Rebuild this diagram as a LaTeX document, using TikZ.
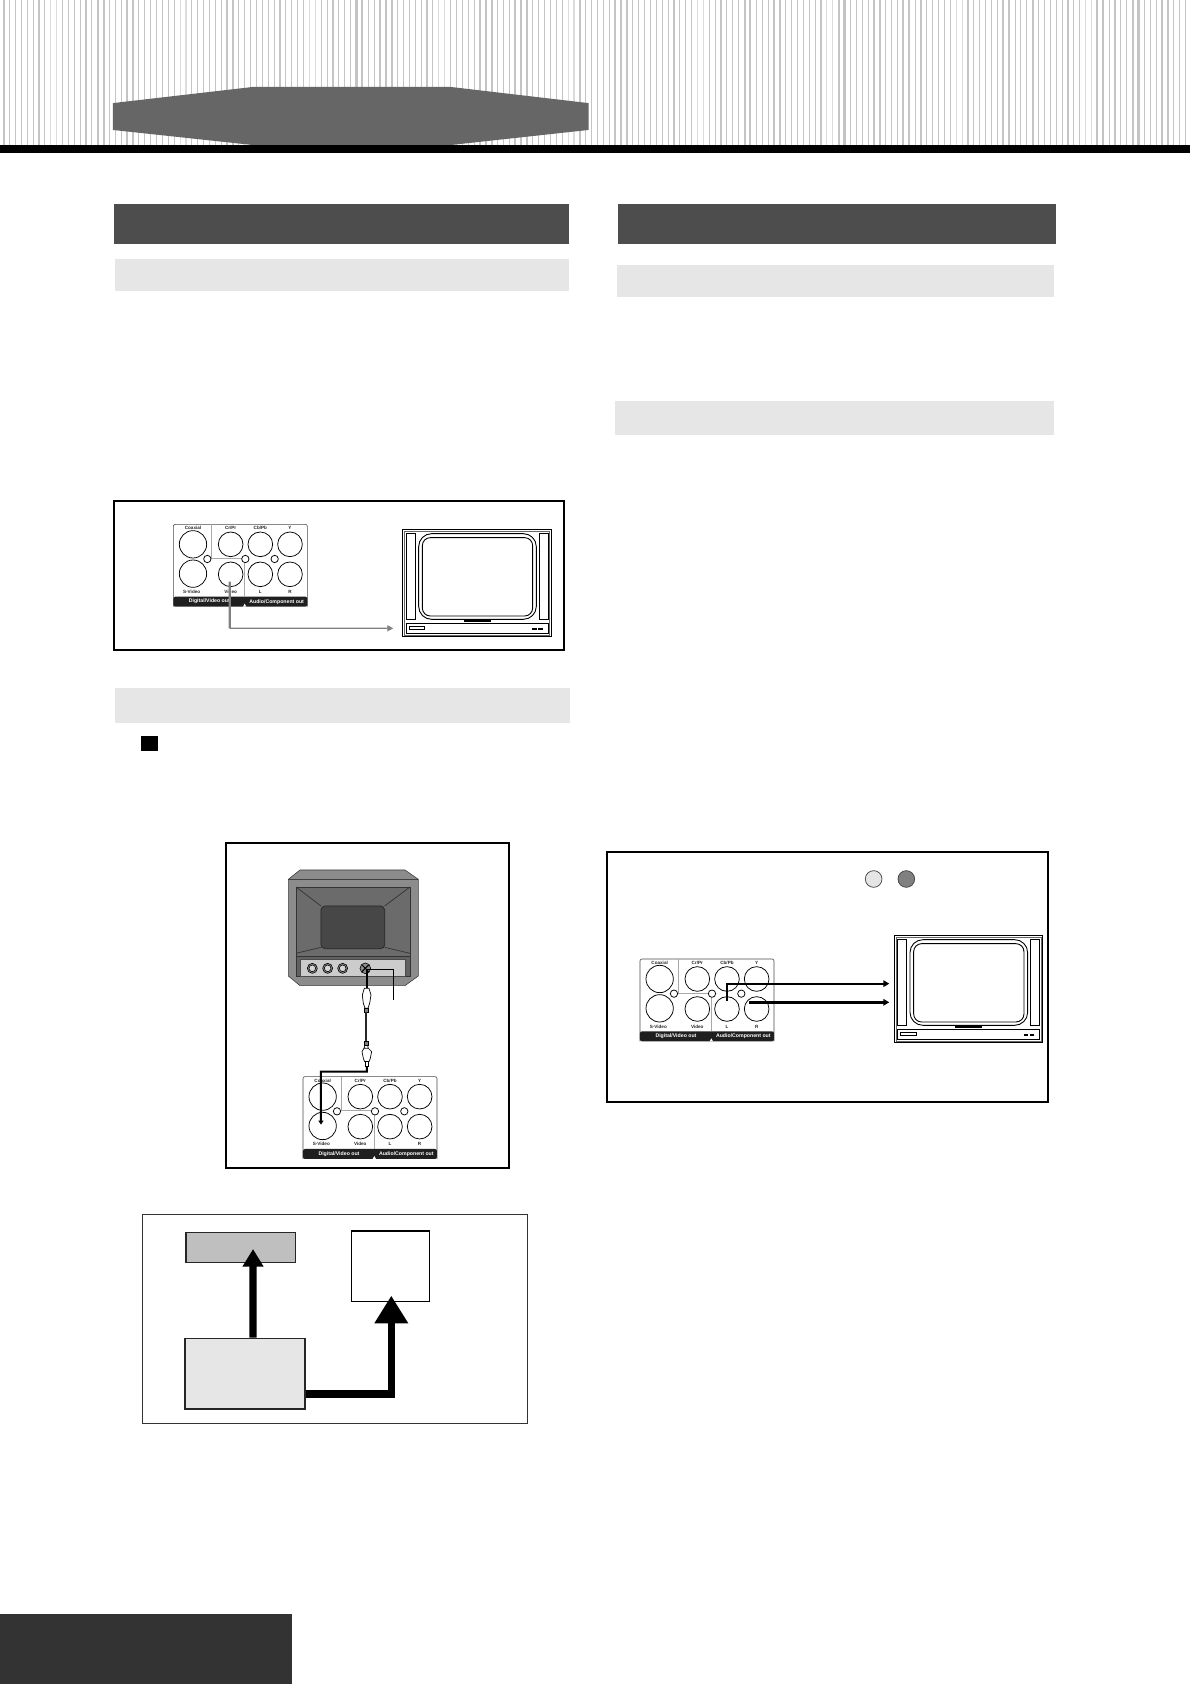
\documentclass[tikz,border=0pt]{standalone}
\usepackage{fontspec}
\setmainfont{Liberation Sans}
\usetikzlibrary{arrows.meta}
\definecolor{titlebar}{HTML}{4D4D4D}
\definecolor{lightbar}{HTML}{E6E6E6}
\definecolor{stripe}{HTML}{C4C4C4}
\definecolor{stripelight}{HTML}{DCDCDC}
\definecolor{pillgray}{HTML}{666666}
\definecolor{footbar}{HTML}{333333}
\definecolor{arrowgray}{HTML}{808080}
\definecolor{jackline}{HTML}{A8A8A8}
\tikzset{
  z1/.style={shift={(102.42,456.24)},scale=.31037},
  z2/.style={shift={(204.84,782.12)},scale=.31037},
  z3/.style={shift={(558.66,786.78)},scale=.31037},
  z5/.style={shift={(121.04,1117.32)},scale=.31037},
  framebox/.style={draw=black,line width=2pt,fill=white},
  thinbox/.style={draw=black!80,line width=.9pt,fill=white},
  jacklabel/.style={font=\fontsize{4.6}{5}\selectfont\bfseries,inner sep=0pt,text=black!85},
  barlabel/.style={font=\fontsize{5.2}{6}\selectfont\bfseries,inner sep=0pt,text=white},
  blockbox/.style={draw=black!85,line width=1.3pt,inner sep=0pt},
  fatarrow/.style={line width=7.3pt,draw=black},
  blackwire/.style={line width=2pt,draw=black},
  graywire/.style={draw=arrowgray},
  jackpanel/.pic={
    \draw[line width=.6pt,rounded corners=2pt,draw=black!70] (0,247) -- (0,0) -- (402,0) -- (402,247);
    \fill[black!88,rounded corners=2pt] (0,217) -- (402,217) -- (402,247) -- (0,247) -- cycle;
    \fill[white] (209,247) -- (214,238) -- (219,247) -- cycle;
    \draw[jackline,line width=.7pt] (114,0) -- (114,102) -- (205,102);
    \draw[jackline,line width=.7pt] (214,115) -- (214,217);
    \foreach \x/\y/\r in {59/60/41,172/60/37,261/60/37,350/60/37,59/148/41,172/150/37,261/150/37,350/150/37,102/104/11,216/104/11,304/104/11}
      \draw[black,line width=.75pt,fill=white] (\x,\y) circle [radius=\r];
    \node[jacklabel] (-lcoax) at (59,12) {Coaxial};
    \node[jacklabel] (-lcr) at (172,12) {Cr/Pr};
    \node[jacklabel] (-lcb) at (261,12) {Cb/Pb};
    \node[jacklabel] (-ly) at (350,12) {Y};
    \node[jacklabel] (-ls) at (55,203) {S-Video};
    \node[jacklabel] (-lv) at (172,203) {Video};
    \node[jacklabel] (-ll) at (261,203) {L};
    \node[jacklabel] (-lr) at (350,203) {R};
    \node[barlabel] (-bar1) at (108,232) {Digital/Video out};
    \node[barlabel] (-bar2) at (310,232) {Audio/Component out};
    \coordinate (-svideo) at (59,148);
    \coordinate (-video) at (169,172);
    \coordinate (-left) at (261,125);
    \coordinate (-right) at (327,131);
  },
  frontset/.pic={
    \draw[black,line width=1pt] (0,0) rectangle (445,322);
    \draw[black!60,line width=.4pt] (5,5) rectangle (440,317);
    \draw[black,line width=.8pt] (10,13) rectangle (36,269);
    \draw[black,line width=.8pt] (409,13) rectangle (435,269);
    \draw[black,line width=.9pt,rounded corners=13pt] (47,13) rectangle (400,270);
    \draw[black,line width=.9pt,rounded corners=8pt] (58,25) rectangle (389,260);
    \fill[black] (183,273) rectangle (264,279);
    \draw[black,line width=.8pt] (10,282) rectangle (436,312);
    \draw[black,line width=.8pt] (18,292) rectangle (65,300);
    \fill[black] (388,296) rectangle (402,303);
    \fill[black] (406,296) rectangle (419,303);
  },
  pz/.style={scale=.31037},
}
\begin{document}
\begin{tikzpicture}[x=1.074pt,y=-1.074pt]
\useasboundingbox (0,0) rectangle (1108,1568);
\fill[white] (0,0) rectangle (1108,1568);
% header stripes
\foreach \i in {0,...,201}{
  \pgfmathtruncatemacro{\m}{mod(\i,22)}
  \def\sw{1.1pt}\def\sc{stripe}
  \ifnum\m=16 \def\sw{2.1pt}\fi
  \ifnum\m=17 \def\sw{2.1pt}\fi
  \ifnum\m=21 \def\sw{1.7pt}\fi
  \ifnum\m=0 \def\sw{1.7pt}\fi
  \ifnum\m=8 \def\sc{stripelight}\fi
  \ifnum\m=9 \def\sc{stripelight}\fi
  \ifnum\i=98 \def\sw{2.1pt}\fi
  \ifnum\i=142 \def\sw{2.1pt}\fi
  \ifnum\i=143 \def\sw{2.1pt}\fi
  \ifnum\i=153 \def\sw{2.1pt}\fi
  \ifnum\i=154 \def\sw{2.1pt}\fi
  \ifnum\i=186 \def\sw{2.1pt}\fi
  \ifnum\i=187 \def\sw{2.1pt}\fi
  \draw[\sc,line width=\sw] ({3.42+5.475*\i},0) -- ({3.42+5.475*\i},135);
}
\fill[pillgray] (105,96) -- (235,81) -- (420,81) -- (548,96) -- (548,121) -- (420,135) -- (235,135) -- (105,121) -- cycle;
\fill[black] (0,135) rectangle (1108,142.3);
% title and section bars
\fill[titlebar] (106,190) rectangle (530,227);
\fill[titlebar] (575,190) rectangle (983,227);
\fill[lightbar] (107,241) rectangle (530,271);
\fill[lightbar] (574.5,247) rectangle (981,277);
\fill[lightbar] (572.5,373) rectangle (981,405);
\fill[lightbar] (107,641) rectangle (531,673);
\fill[black] (131,685) rectangle (147,699);
\fill[footbar] (0,1503) rectangle (272,1568);

% box 1: composite video
\begin{scope}[z1]
  \draw[framebox] (12,32) rectangle (1361,480);
  \pic[pz] (pa) at (190,103) {jackpanel};
  \pic[pz] (tva) at (879,118) {frontset};
  \coordinate (tvain) at (850,415);
  \coordinate (pabend) at (pa-video |- tvain);
  \draw[graywire,line width=2.2pt] (pa-video) -- (pabend);
  \draw[graywire,line width=1.2pt,-{Triangle[length=6pt,width=6pt]}] (pabend) -- (tvain);
\end{scope}

% box 2: S-Video
\begin{scope}[z2]
  \draw[framebox] (17,8) rectangle (868,985);
  \fill[black!45,draw=black!75,line width=.6pt] (205,118) -- (240,90) -- (555,90) -- (595,118) -- (595,408) -- (555,437) -- (240,437) -- (205,408) -- cycle;
  \draw[black!75,line width=.7pt] (205,118) -- (595,118);
  \draw[black!80,line width=.7pt,fill=black!58] (228,141) rectangle (570,350);
  \fill[black!62,draw=black!80,line width=.6pt] (228,350) rectangle (570,408);
  \draw[black!80,line width=.7pt] (228,141) -- (303,198) (570,141) -- (494,198) (228,340) -- (303,322) (570,340) -- (494,322);
  \draw[black!85,line width=.7pt,fill=black!72,rounded corners=4pt] (303,198) rectangle (494,326);
  \fill[black!20,draw=black!70,line width=.5pt] (240,358) rectangle (556,408);
  \foreach \x in {277,323,368}{
    \draw[black,line width=.6pt,fill=black!45] (\x,385) circle [radius=15];
    \draw[black,line width=.6pt,fill=black!15] (\x,385) circle [radius=10];
  }
  \draw[black,line width=.6pt,fill=black!45] (436,385) circle [radius=16];
  \draw[black,line width=1pt] (426,375) -- (446,395) (426,395) -- (446,375);
  \coordinate (sin) at (440,388);
  \coordinate (leadend) at (521,480);
  \draw[black,line width=1.5pt] (sin) -| (leadend);
  \draw[black,line width=.7pt,fill=white] (433,445) -- (447,445) -- (453,465) -- (449,490) -- (444,505) -- (435,505) -- (430,490) -- (427,465) -- cycle;
  \draw[black,line width=.6pt,fill=black!50] (434,505) rectangle (444,517);
  \draw[black,line width=.7pt,fill=white] (432,625) -- (445,625) -- (455,635) -- (451,655) -- (447,665) -- (434,665) -- (430,655) -- (426,635) -- cycle;
  \draw[black,line width=.6pt,fill=black!50] (433,603) rectangle (444,617);
  \draw[black,line width=.7pt,fill=white] (436,665) rectangle (446,680);
  \draw[black,line width=.7pt] (435,617) -- (432,625) (443,617) -- (445,625);
  \coordinate (plugtopin) at (440,445);
  \coordinate (plugtopout) at (439,517);
  \coordinate (plugbotin) at (439,603);
  \coordinate (plugbotout) at (441,680);
  \draw[blackwire] (sin) -- (plugtopin);
  \draw[blackwire,draw=black!85] (plugtopout) -- (plugbotin);
  \pic[pz] (pb) at (249,710) {jackpanel};
  \coordinate (pbtip) at (303,854);
  \draw[blackwire,-{Triangle[length=4pt,width=5pt]}] (plugbotout) |- (303,695) -- (pbtip);
\end{scope}

% box 3: audio
\begin{scope}[z3]
  \draw[framebox] (22,22) rectangle (1343,770);
  \draw[black!75,line width=.7pt,fill=black!10] (821,102) circle [radius=25];
  \draw[black!75,line width=.7pt,fill=black!50] (919,102) circle [radius=25];
  \pic[pz] (pc) at (120,342) {jackpanel};
  \pic[pz] (tvc) at (883,271) {frontset};
  \coordinate (tvcl) at (868,416);
  \coordinate (tvcr) at (868,472);
  \coordinate (pcl) at (381,467);
  \coordinate (pcr) at (447,472);
  \draw[blackwire,-{Triangle[length=6pt,width=6.5pt]}] (pcl) |- (tvcl);
  \draw[blackwire,line width=3pt,-{Triangle[length=6pt,width=6.5pt]}] (pcr) -- (tvcr);
\end{scope}

% box 4: block diagram
\begin{scope}[z5]
  \draw[thinbox] (37,42) rectangle (1191,669);
  \node[blockbox,fill=black!25,minimum width=109.7pt,minimum height=30pt] (ba) at (332.5,143) {};
  \node[blockbox,draw=black,fill=white,minimum width=77.7pt,minimum height=70.3pt] (bb) at (781.5,198.5) {};
  \node[blockbox,fill=lightbar,minimum width=120pt,minimum height=70.7pt] (bc) at (345,521) {};
  \draw[fatarrow,-{Triangle[length=17.7pt,width=20pt]}] ([xshift=25.8pt]bc.north) -- ([xshift=39.3pt,yshift=46.1pt]ba.south);
  \draw[fatarrow,-{Triangle[length=27.7pt,width=32pt]}] ([yshift=-65.4pt]bc.east) -| ([xshift=2.6pt,yshift=20.3pt]bb.south);
\end{scope}
\end{tikzpicture}
\end{document}
